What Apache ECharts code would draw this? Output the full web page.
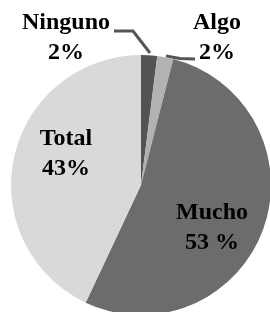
<!DOCTYPE html>
<html><head><meta charset="utf-8">
<script src="https://cdn.jsdelivr.net/npm/echarts@6/dist/echarts.min.js"></script>
<style>html,body{margin:0;padding:0;background:#fff}#c{width:270px;height:312px}</style>
</head><body><div id="c"></div>
<script>
const categories = ["Ninguno", "Algo", "Mucho", "Total"];
const values = [2, 2, 53, 43];
const percentLabels = ["2%", "2%", "53 %", "43%"];
const colors = ["#535353", "#b2b2b2", "#6c6c6c", "#d9d9d9"];

const labelPos = [
  {x: 66, y: 38, line: [[150, 53], [133, 31], [114, 31]]},
  {x: 217, y: 38, line: [[166, 56], [180, 58.5], [195, 59]]},
  {x: 212, y: 228},
  {x: 66, y: 154}
];

const chart = echarts.init(document.getElementById('c'), null, {renderer: 'canvas'});
chart.setOption({
  animation: false,
  backgroundColor: '#fff',
  series: [{
    type: 'pie',
    center: [141, 185],
    radius: [0, 130],
    startAngle: 90,
    clockwise: true,
    silent: true,
    avoidLabelOverlap: false,
    labelLine: {show: true, lineStyle: {color: '#555555', width: 3}},
    data: categories.map((c, i) => ({
      name: c,
      value: values[i],
      itemStyle: {color: colors[i]},
      label: {position: i < 2 ? 'outside' : 'inside'},
      labelLine: {show: i < 2, lineStyle: {color: '#555555', width: 3}}
    })),
    label: {
      show: true,
      formatter: p => p.name + '\n' + percentLabels[p.dataIndex],
      fontFamily: 'Liberation Serif',
      fontWeight: 'bold',
      fontSize: 24,
      lineHeight: 30,
      color: '#000',
      align: 'center',
      overflow: 'none',
      width: 200
    },
    labelLayout: function (params) {
      const lp = labelPos[params.dataIndex];
      const r = {x: lp.x, y: lp.y, align: 'center', verticalAlign: 'middle', hideOverlap: false, moveOverlap: null};
      if (lp.line) r.labelLinePoints = lp.line;
      return r;
    }
  }]
});
</script></body></html>
